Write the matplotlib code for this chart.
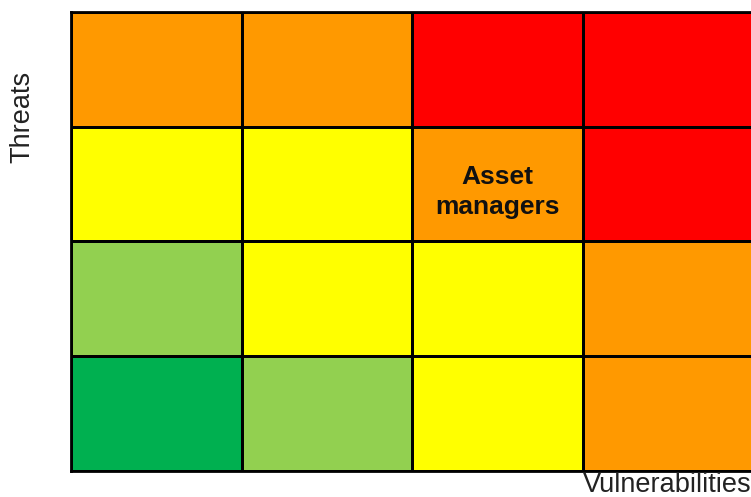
import matplotlib.pyplot as plt
import numpy as np
from matplotlib.colors import ListedColormap

plt.rcParams["font.family"] = ["Liberation Sans", "DejaVu Sans"]

# risk level per cell, rows from top (high threat) to bottom
LEVEL_COLORS = ["#00B050", "#92D050", "#FFFF00", "#FF9900", "#FF0000"]
risk_rows = [
    [3, 3, 4, 4],
    [2, 2, 3, 4],
    [1, 2, 2, 3],
    [0, 1, 2, 3],
]
cell_label = "Asset\nmanagers"
label_cell = (1, 2)  # (row from top, column)
x_title = "Vulnerabilities"
y_title = "Threats"

W, H = 751, 497
fig = plt.figure(figsize=(W / 100, H / 100), dpi=100)
ax = fig.add_axes([71 / W, 26 / H, 682 / W, 459 / H])

grid = np.array(risk_rows)
ax.pcolormesh(
    grid,
    cmap=ListedColormap(LEVEL_COLORS),
    vmin=-0.5,
    vmax=len(LEVEL_COLORS) - 0.5,
    edgecolors="black",
    linewidth=2,
)
ax.set_xlim(0, grid.shape[1])
ax.set_ylim(grid.shape[0], 0)
ax.set_xticks([])
ax.set_yticks([])
for spine in ax.spines.values():
    spine.set_linewidth(2)

r, c = label_cell
ax.text(c + 0.5, r + 0.57, cell_label, ha="center", va="center",
        fontsize=19, fontweight="bold", linespacing=1.3, color="#111111")

fig.text(22 / W, 1 - 117 / H, y_title, rotation=90, ha="center", va="center",
         fontsize=19.5, color="#222222")
fig.text(667 / W, 1 - 485 / H, x_title, ha="center", va="center",
         fontsize=19.5, color="#222222")

fig.savefig("out.png", dpi=100)
